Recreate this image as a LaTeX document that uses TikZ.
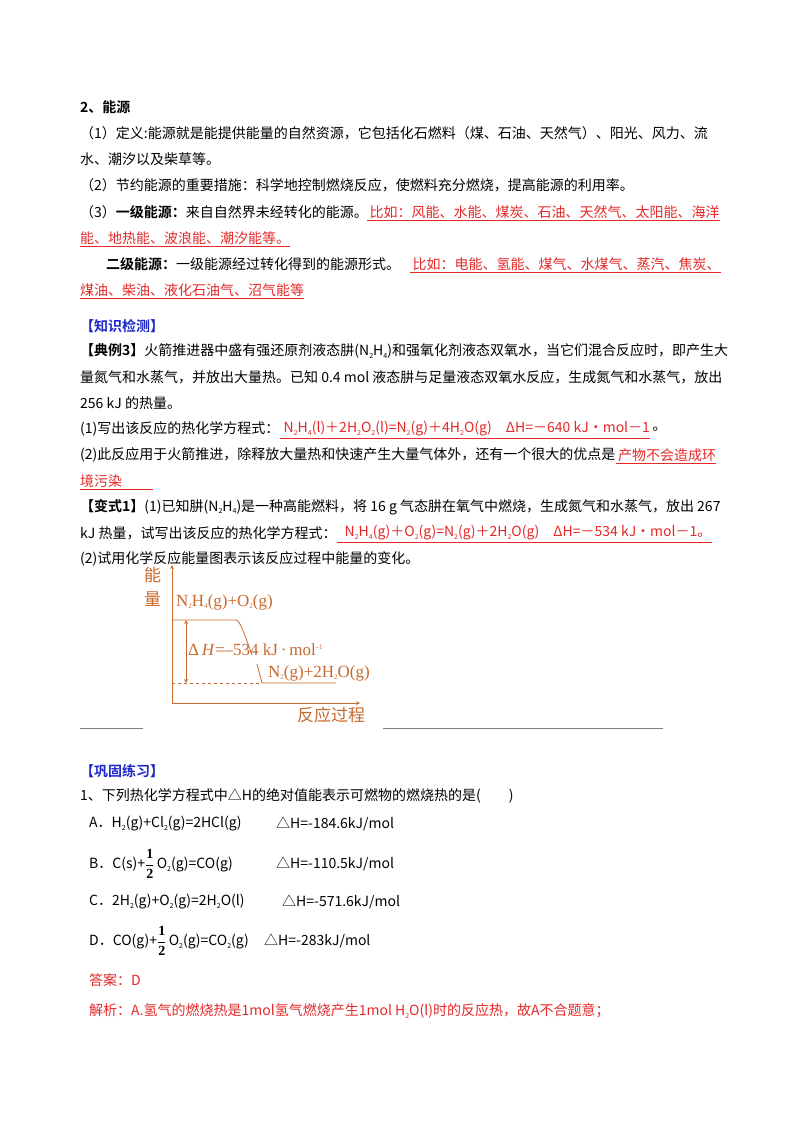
\documentclass[tikz,border=0pt]{standalone}
\usepackage{fontspec}
\setmainfont{Liberation Serif}
\newfontfamily\cjk{Noto Sans CJK SC}
\newfontfamily\cjkb{Noto Sans CJK SC Bold}
\definecolor{ansred}{RGB}{230,40,40}
\definecolor{hdblue}{RGB}{30,40,200}
\definecolor{dgorange}{RGB}{200,105,45}
\newcommand{\dn}[1]{\raisebox{-0.35ex}{\scriptsize #1}}
\newcommand{\up}[1]{\raisebox{0.8ex}{\scriptsize #1}}
\newcommand{\hf}{$\displaystyle\frac{\mathbf{1}}{\mathbf{2}}$}
\begin{document}
\begin{tikzpicture}[x=1pt,y=-1pt,
  txt/.style={anchor=west,inner sep=0pt,font=\cjk\fontsize{14}{16}\selectfont},
  red/.style={txt,text=ansred},
  ul/.style={ansred,line width=0.6pt},
  dg/.style={dgorange,line width=0.8pt},
  dgt/.style={anchor=west,inner sep=0pt,text=dgorange,font=\fontsize{17}{19}\selectfont}]
\useasboundingbox[fill=white] (0,0) rectangle (800,1132);
\node[txt] (t1) at (80,107) {\cjkb 2、能源};
\node[txt] (t2) at (80,133) {（1）定义:能源就是能提供能量的自然资源，它包括化石燃料（煤、石油、天然气）、阳光、风力、流};
\node[txt] (t3) at (80,159) {水、潮汐以及柴草等。};
\node[txt] (t4) at (80,185) {（2）节约能源的重要措施：科学地控制燃烧反应，使燃料充分燃烧，提高能源的利用率。};
\node[txt] (t5) at (80,212) {（3）{\cjkb 一级能源：}来自自然界未经转化的能源。};
\node[red] (r5) at (367,212) {\,比如：风能、水能、煤炭、石油、天然气、太阳能、海洋};
\draw[ul] ([yshift=-2pt]r5.south west) -- ([yshift=-2pt]r5.south east);
\node[red] (r6) at (80,238) {能、地热能、波浪能、潮汐能等。};
\draw[ul] ([yshift=-2pt]r6.south west) -- ([yshift=-2pt]r6.south east);
\node[txt] (t7) at (106,264) {{\cjkb 二级能源：}一级能源经过转化得到的能源形式。};
\node[red] (r7) at (410,264) {\,比如：电能、氢能、煤气、水煤气、蒸汽、焦炭、};
\draw[ul] ([yshift=-2pt]r7.south west) -- ([yshift=-2pt]r7.south east);
\node[red] (r8) at (80,290) {煤油、柴油、液化石油气、沼气能等};
\draw[ul] ([yshift=-2pt]r8.south west) -- ([yshift=-2pt]r8.south east);

\node[txt,text=hdblue] (h1) at (80,326) {\cjkb 【知识检测】};
\node[txt] (p1) at (80,351) {{\cjkb 【典例3】}火箭推进器中盛有强还原剂液态肼(N\dn{2}H\dn{4})和强氧化剂液态双氧水，当它们混合反应时，即产生大};
\node[txt] (p2) at (80,377) {量氮气和水蒸气，并放出大量热。已知 0.4 mol 液态肼与足量液态双氧水反应，生成氮气和水蒸气，放出};
\node[txt] (p3) at (80,403) {256 kJ 的热量。};
\node[txt] (p4) at (80,429) {(1)写出该反应的热化学方程式：};
\node[red] (r9) at (p4.east) {\;N\dn{2}H\dn{4}(l)＋2H\dn{2}O\dn{2}(l)=N\dn{2}(g)＋4H\dn{2}O(g)\quad ΔH=－640 kJ·mol－1\qquad};
\draw[ul] ([yshift=-2pt]r9.south west) -- ([yshift=-2pt]r9.south east);
\node[txt] (t9e) at (r9.east) {\,。};
\node[txt] (p5) at (80,455) {(2)此反应用于火箭推进，除释放大量热和快速产生大量气体外，还有一个很大的优点是};
\node[red] (r10) at (p5.east) {\,产物不会造成环};
\draw[ul] ([yshift=-2pt]r10.south west) -- ([yshift=-2pt]r10.south east);
\node[red] (r11) at (80,481) {境污染\qquad\,};
\draw[ul] ([yshift=-2pt]r11.south west) -- ([yshift=-2pt]r11.south east);
\node[txt] (p6) at (80,507) {{\cjkb 【变式1】}(1)已知肼(N\dn{2}H\dn{4})是一种高能燃料，将 16 g 气态肼在氧气中燃烧，生成氮气和水蒸气，放出 267};
\node[txt] (p7) at (80,533) {kJ 热量，试写出该反应的热化学方程式：};
\node[red] (r12) at (p7.east) {\;\;N\dn{2}H\dn{4}(g)＋O\dn{2}(g)=N\dn{2}(g)＋2H\dn{2}O(g)\quad ΔH=－534 kJ·mol－1。};
\draw[ul] ([yshift=-2pt]r12.south west) -- ([yshift=-2pt]r12.south east);
\node[txt] (p8) at (80,559) {(2)试用化学反应能量图表示该反应过程中能量的变化。};

% energy diagram
\coordinate (o) at (172,703);
\coordinate (ytop) at (172,565);
\coordinate (xend) at (360,703);
\draw[dg,-stealth] (o) -- (ytop);
\draw[dg,-stealth] (o) -- (xend);
\node[txt,text=dgorange,font=\cjk\fontsize{17}{19}\selectfont] (yl1) at (144,575) {能};
\node[txt,text=dgorange,font=\cjk\fontsize{17}{19}\selectfont] (yl2) at (144,599) {量};
\node[txt,text=dgorange,font=\cjk\fontsize{17}{19}\selectfont] (xl) at (297,715) {反应过程};
\coordinate (a1) at (172,620);
\coordinate (a2) at (236,620);
\coordinate (a3) at (252,655);
\coordinate (b0) at (257,664);
\coordinate (b1) at (262,683);
\coordinate (b2) at (336,683);
\draw[dg] (a1) -- (a2) .. controls (240,621) and (243,630) .. (a3);
\draw[dg] (b0) -- (b1) -- (b2);
\draw[dg,dashed] (o |- b1) -- (b1);
\coordinate (dA) at (186,620);
\coordinate (dB) at (186,683);
\draw[dg,stealth-stealth] (dA) -- (dB);
\node[dgt] (l1) at (176,602) {N\dn{2}H\dn{4}(g)+O\dn{2}(g)};
\node[dgt] (l2) at (188,650) {Δ\,\textit{H}=–534 kJ\,·\,mol\up{–1}};
\node[dgt] (l3) at (268,673) {N\dn{2}(g)+2H\dn{2}O(g)};
\draw[gray,line width=0.6pt] (80,728) -- (143,728);
\draw[gray,line width=0.6pt] (383,728) -- (663,728);

\node[txt,text=hdblue] (h2) at (80,771) {\cjkb 【巩固练习】};
\node[txt] (q1) at (80,796) {1、下列热化学方程式中△H的绝对值能表示可燃物的燃烧热的是(\qquad)};
\node[txt] (qa) at (89,824) {A．H\dn{2}(g)+Cl\dn{2}(g)=2HCl(g)};
\node[txt] (qah) at (276,824) {△H=-184.6kJ/mol};
\node[txt] (qb) at (89,864) {B．C(s)+\hf\,O\dn{2}(g)=CO(g)};
\node[txt] (qbh) at (276,864) {△H=-110.5kJ/mol};
\node[txt] (qc) at (89,902) {C．2H\dn{2}(g)+O\dn{2}(g)=2H\dn{2}O(l)};
\node[txt] (qch) at (282,902) {△H=-571.6kJ/mol};
\node[txt] (qd) at (89,941) {D．CO(g)+\hf\,O\dn{2}(g)=CO\dn{2}(g)};
\node[txt] (qdh) at (264,941) {△H=-283kJ/mol};
\node[red] (ans) at (89,980) {答案：D};
\node[red] (exp) at (89,1011) {解析：A.氢气的燃烧热是1mol氢气燃烧产生1mol H\dn{2}O(l)时的反应热，故A不合题意；};
\end{tikzpicture}
\end{document}
